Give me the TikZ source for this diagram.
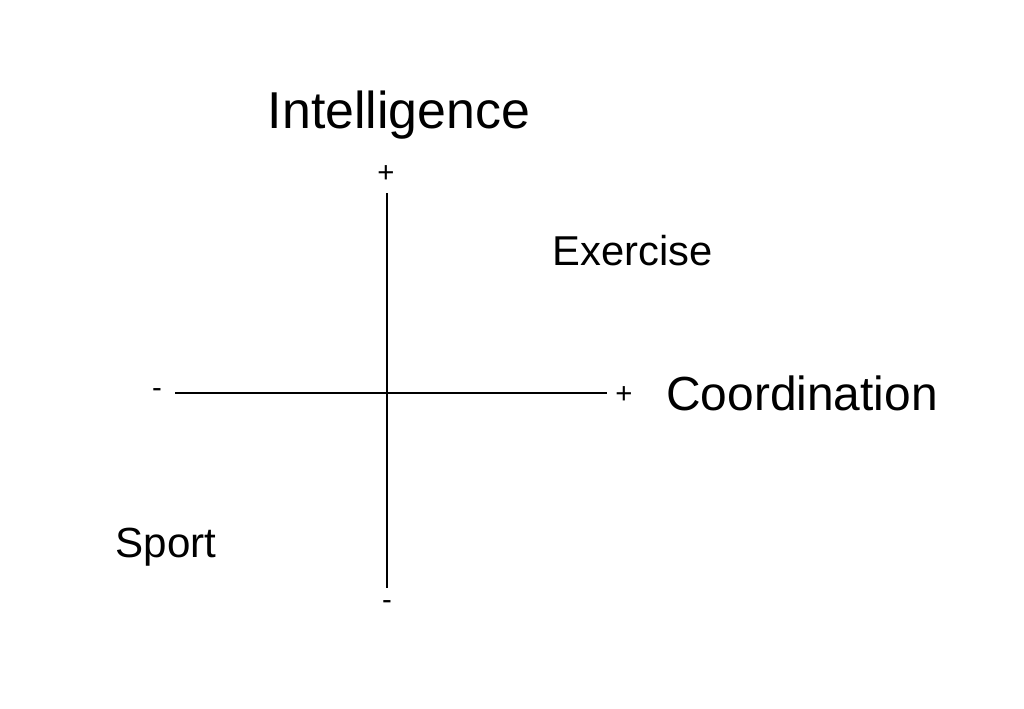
\documentclass[tikz,border=0pt]{standalone}
\usepackage{fontspec}
\setmainfont{Liberation Sans}
\begin{document}
\begin{tikzpicture}[x=0.75pt,y=-0.75pt,
  lbl/.style={inner sep=0pt,anchor=center},
  ax/.style={line width=1.8pt}]
\useasboundingbox (0,0) rectangle (1024,708);
\fill[white] (0,0) rectangle (1024,708);
\coordinate (vt) at (387,193);
\coordinate (vb) at (387,588);
\coordinate (hl) at (175,393);
\coordinate (hr) at (607,393);
\draw[ax] (vt) -- (vb);
\draw[ax] (hl) -- (hr);
\node[lbl] (int) at (399,115) {\fontsize{38.9pt}{44pt}\selectfont Intelligence};
\node[lbl] (coo) at (802,393) {\fontsize{35.9pt}{42pt}\selectfont Coordination};
\node[lbl] (ex) at (633,251) {\fontsize{31.3pt}{36pt}\selectfont Exercise};
\node[lbl] (sp) at (166,547) {\fontsize{31.6pt}{36pt}\selectfont Sport};
\node[lbl] (pt) at (386,174) {\fontsize{22pt}{26pt}\selectfont +};
\node[lbl] (pr) at (624,395) {\fontsize{22pt}{26pt}\selectfont +};
\node[lbl] (ml) at (157,393) {\fontsize{22pt}{26pt}\selectfont -};
\node[lbl] (mb) at (387,605) {\fontsize{22pt}{26pt}\selectfont -};
\end{tikzpicture}
\end{document}
